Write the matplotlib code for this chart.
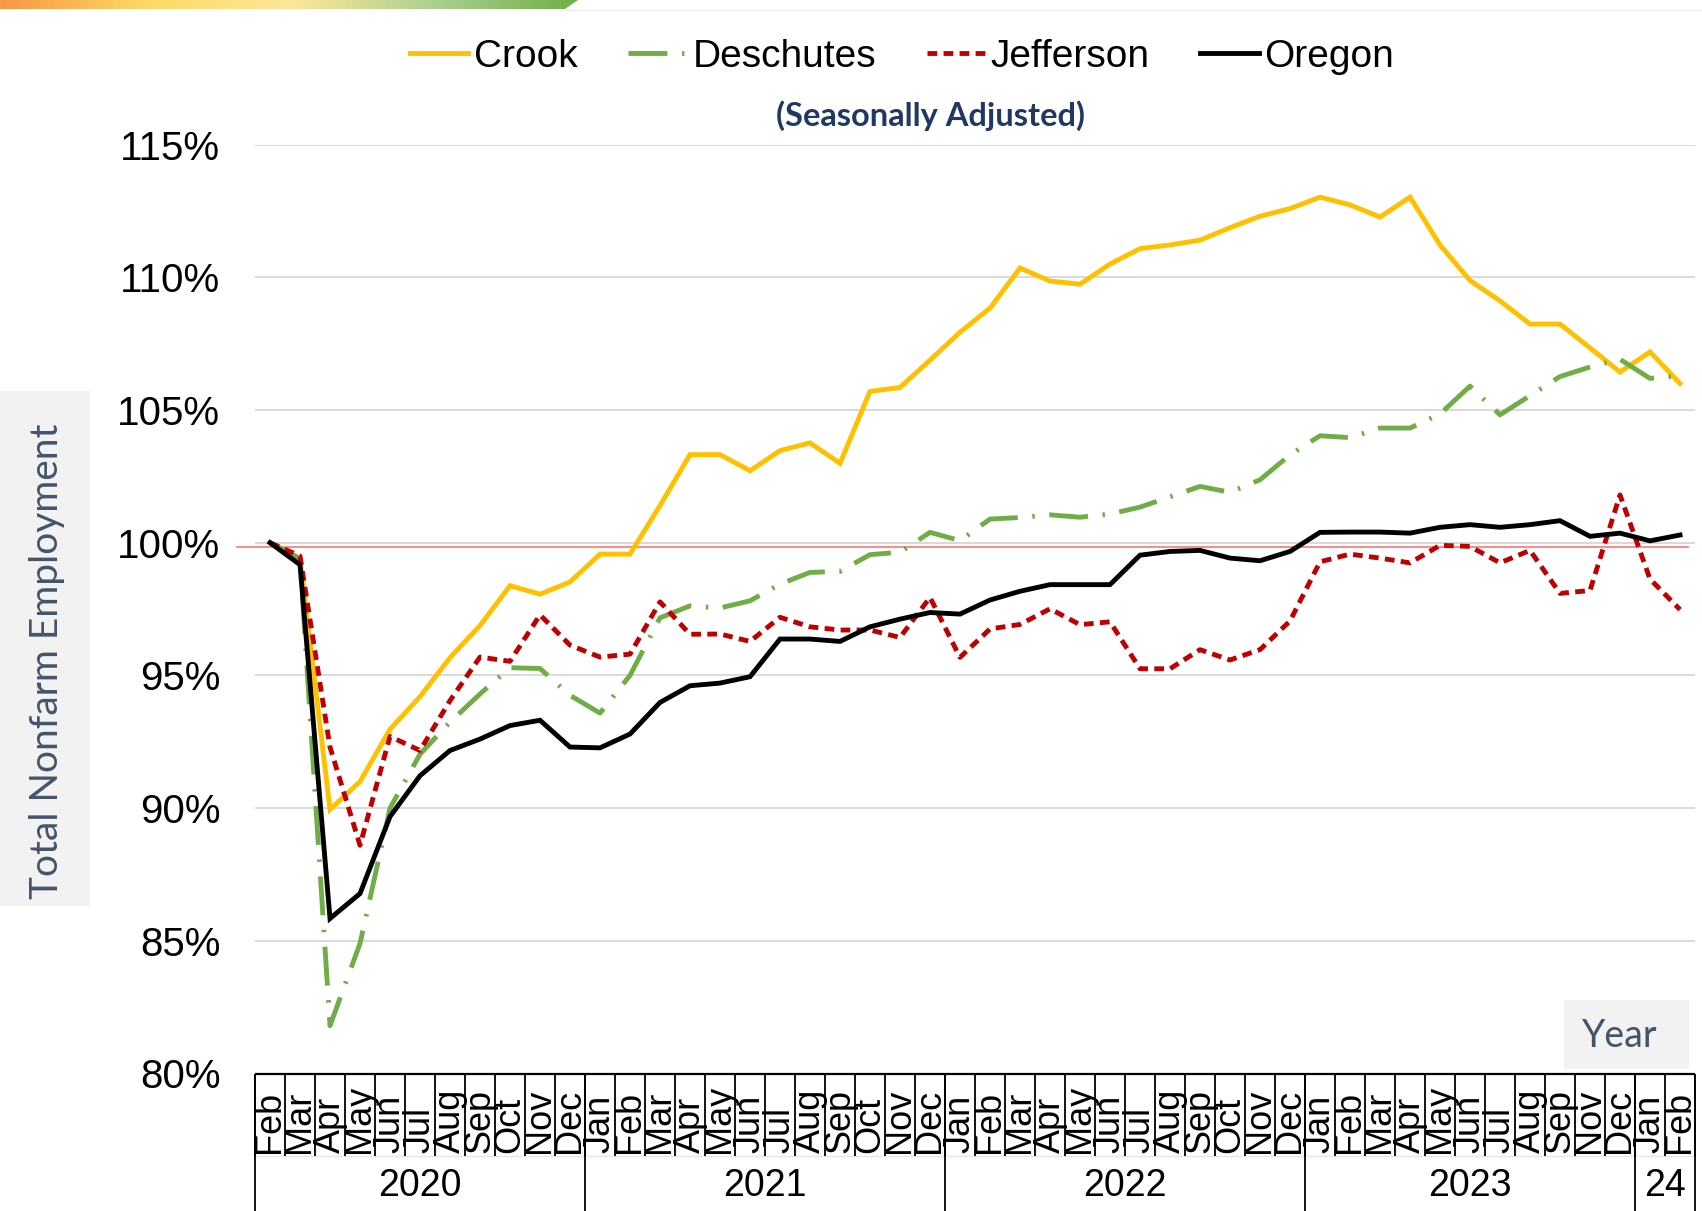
import numpy as np
import matplotlib
matplotlib.use('Agg')
import matplotlib.pyplot as plt
from matplotlib.patches import Rectangle, Polygon
from matplotlib.colors import LinearSegmentedColormap

# ---------------- data ----------------
month_labels = (
    ['Feb', 'Mar', 'Apr', 'May', 'Jun', 'Jul', 'Aug', 'Sep', 'Oct', 'Nov', 'Dec']
    + ['Jan', 'Feb', 'Mar', 'Apr', 'May', 'Jun', 'Jul', 'Aug', 'Sep', 'Oct', 'Nov', 'Dec']
    + ['Jan', 'Feb', 'Mar', 'Apr', 'May', 'Jun', 'Jul', 'Aug', 'Sep', 'Oct', 'Nov', 'Dec']
    + ['Jan', 'Feb', 'Mar', 'Apr', 'May', 'Jun', 'Jul', 'Aug', 'Sep', 'Nov', 'Dec']
    + ['Jan', 'Feb']
)
year_labels = ['2020', '2021', '2022', '2023', '24']
year_counts = [11, 12, 12, 11, 2]

crook = [100.0, 99.4, 89.95, 91.0, 92.97, 94.2, 95.67, 96.88, 98.38, 98.06, 98.52,
         99.57, 99.57, 101.4, 103.32, 103.32, 102.71, 103.47, 103.76, 102.99, 105.70, 105.85, 106.88,
         107.93, 108.84, 110.35, 109.86, 109.74, 110.5, 111.08, 111.22, 111.4, 111.87, 112.3, 112.59,
         113.02, 112.73, 112.27, 113.02, 111.22, 109.88, 109.11, 108.24, 108.24, 107.34, 106.43,
         107.19, 106.0]
deschutes = [100.0, 99.4, 81.8, 84.9, 90.0, 92.03, 93.24, 94.3, 95.29, 95.26, 94.25,
             93.58, 95.0, 97.17, 97.62, 97.54, 97.81, 98.44, 98.88, 98.92, 99.55, 99.64, 100.39,
             100.08, 100.89, 100.95, 101.05, 100.96, 101.08, 101.34, 101.73, 102.12, 101.9, 102.37, 103.31,
             104.03, 103.96, 104.32, 104.32, 104.85, 105.9, 104.82, 105.54, 106.26, 106.62, 106.91,
             106.19, 106.29]
jefferson = [100.0, 99.5, 92.3, 88.6, 92.7, 92.17, 94.05, 95.69, 95.53, 97.28, 96.14,
             95.69, 95.8, 97.77, 96.55, 96.56, 96.28, 97.19, 96.83, 96.71, 96.71, 96.43, 97.94,
             95.68, 96.75, 96.92, 97.51, 96.91, 97.02, 95.25, 95.25, 95.97, 95.58, 95.97, 97.05,
             99.28, 99.57, 99.42, 99.24, 99.9, 99.86, 99.24, 99.71, 98.09, 98.2, 101.8,
             98.63, 97.48]
oregon = [100.0, 99.17, 85.84, 86.78, 89.68, 91.22, 92.17, 92.6, 93.11, 93.31, 92.30,
          92.27, 92.79, 93.98, 94.61, 94.71, 94.95, 96.37, 96.37, 96.28, 96.83, 97.12, 97.37,
          97.31, 97.84, 98.17, 98.42, 98.42, 98.42, 99.53, 99.67, 99.71, 99.42, 99.32, 99.67,
          100.39, 100.40, 100.40, 100.36, 100.58, 100.68, 100.58, 100.68, 100.83, 100.24, 100.36,
          100.07, 100.29]
reference_level = 99.83
y_ticks = [80, 85, 90, 95, 100, 105, 110, 115]

# ---------------- layout helpers ----------------
W, H = 1702, 1211
fig = plt.figure(figsize=(W / 100, H / 100), dpi=100)
fig.patch.set_facecolor('white')


def fx(px):
    return px / W


def fy(py):
    return 1 - py / H


AX_L, AX_R = 255, 1695
AX_T, AX_B = 144.6, 1073.5
TABLE_MID, TABLE_B = 1156, 1211

base_font = ['Liberation Sans', 'DejaVu Sans']
slate = '#44546A'

ax = fig.add_axes([fx(AX_L), fy(AX_B), (AX_R - AX_L) / W, (AX_B - AX_T) / H])
n = len(month_labels)
x = np.arange(n)
ax.set_xlim(-0.5, n - 0.5)
ax.set_ylim(y_ticks[0], y_ticks[-1])
ax.set_yticks(y_ticks)
ax.set_yticklabels([f'{v}%' for v in y_ticks], fontfamily=base_font, fontsize=29, color='#000000')
ax.set_xticks([])
ax.tick_params(axis='y', length=0, pad=25)
ax.grid(axis='y', color='#D9D9D9', lw=1.4)
ax.set_axisbelow(True)
for s in ax.spines.values():
    s.set_visible(False)

ax.axhline(reference_level, xmin=-0.0125, xmax=0.9948, color='#FF8080', lw=1.3,
           clip_on=False, zorder=2)

lw = 3.5
l1, = ax.plot(x, crook, color='#FFC000', lw=lw, solid_joinstyle='miter', label='Crook', zorder=3)
l2, = ax.plot(x, deschutes, color='#70AD47', lw=lw, dashes=(8, 3, 0.5, 3),
              dash_capstyle='butt', label='Deschutes', zorder=4)
l3, = ax.plot(x, jefferson, color='#C00000', lw=lw, dashes=(2.0, 1.3),
              dash_capstyle='butt', label='Jefferson', zorder=5)
l4, = ax.plot(x, oregon, color='#000000', lw=lw, solid_joinstyle='miter', label='Oregon', zorder=6)

# ---------------- category table ----------------
tab = fig.add_axes([fx(AX_L), 0, (AX_R - AX_L) / W, fy(AX_B)])
tab.set_xlim(-0.5, n - 0.5)
tab.set_ylim(TABLE_B, AX_B)
tab.axis('off')

bounds = np.arange(n + 1) - 0.5
year_bounds = np.concatenate([[0], np.cumsum(year_counts)]) - 0.5
tab.hlines(AX_B + 0.5, -0.5, n - 0.5, color='black', lw=1.6, clip_on=False)
tab.hlines(TABLE_MID, -0.5, n - 0.5, color='#E6E6E6', lw=1.0, clip_on=False)
tab.vlines(bounds, AX_B, TABLE_MID, color='black', lw=1.3, clip_on=False)
tab.vlines(year_bounds, AX_B, TABLE_B, color='black', lw=1.3, clip_on=False)
for i, lab in enumerate(month_labels):
    tab.text(i, TABLE_MID - 3, lab, rotation=90, ha='center', va='bottom',
             fontfamily=base_font, fontsize=26, color='black')
for k, ylab in enumerate(year_labels):
    c = (year_bounds[k] + year_bounds[k + 1]) / 2
    tab.text(c, 1186, ylab, ha='center', va='center', fontfamily=base_font,
             fontsize=27, color='black')

# ---------------- decorations ----------------
# y-axis title box
fig.patches.append(Rectangle((0, fy(906)), fx(90), (906 - 391) / H, transform=fig.transFigure,
                             facecolor='#F2F2F2', edgecolor='none', zorder=0))
fig.text(fx(47), fy(661), 'Total Nonfarm Employment', rotation=90, ha='center', va='center',
         fontfamily=['Lato', 'DejaVu Sans'], fontsize=28, color=slate)

# "Year" box
fig.patches.append(Rectangle((fx(1564), fy(1069)), fx(1689) - fx(1564), (1069 - 1000) / H,
                             transform=fig.transFigure, facecolor='#F2F2F2',
                             edgecolor='none', zorder=10))
fig.text(fx(1620), fy(1036), 'Year', ha='center', va='center',
         fontfamily=['Lato', 'DejaVu Sans'], fontsize=27, color=slate, zorder=11)

# subtitle
fig.text(fx(931), fy(116), '(Seasonally Adjusted)', ha='center', va='center',
         fontfamily=['Lato', 'DejaVu Sans'], fontweight='bold', fontsize=23.5, color='#1F3864')

# legend
fig.legend(handles=[l1, l2, l3, l4], loc='center', bbox_to_anchor=(fx(902), fy(57)),
           ncol=4, frameon=False, prop={'family': base_font, 'size': 28},
           handlelength=1.5, handletextpad=0.15, columnspacing=1.3)

# top gradient bar
gax = fig.add_axes([0, fy(9), fx(580), 9 / H])
gax.axis('off')
grad = np.linspace(0, 1, 256)[None, :]
cmap = LinearSegmentedColormap.from_list('bar', ['#F79646', '#FFD966', '#FFE699', '#A9D18E', '#70AD47'])
im = gax.imshow(grad, aspect='auto', cmap=cmap, extent=(0, 580, 9, 0))
gax.set_xlim(0, 580)
gax.set_ylim(9, 0)
clip = Polygon([(0, 0), (578, 0), (565, 9), (0, 9)], closed=True, transform=gax.transData)
im.set_clip_path(clip)
fig.add_artist(plt.Line2D([fx(560), 1], [fy(10), fy(10)], transform=fig.transFigure,
                          color='#EEEEEE', lw=1))

fig.savefig('out.png', dpi=100, facecolor='white')
